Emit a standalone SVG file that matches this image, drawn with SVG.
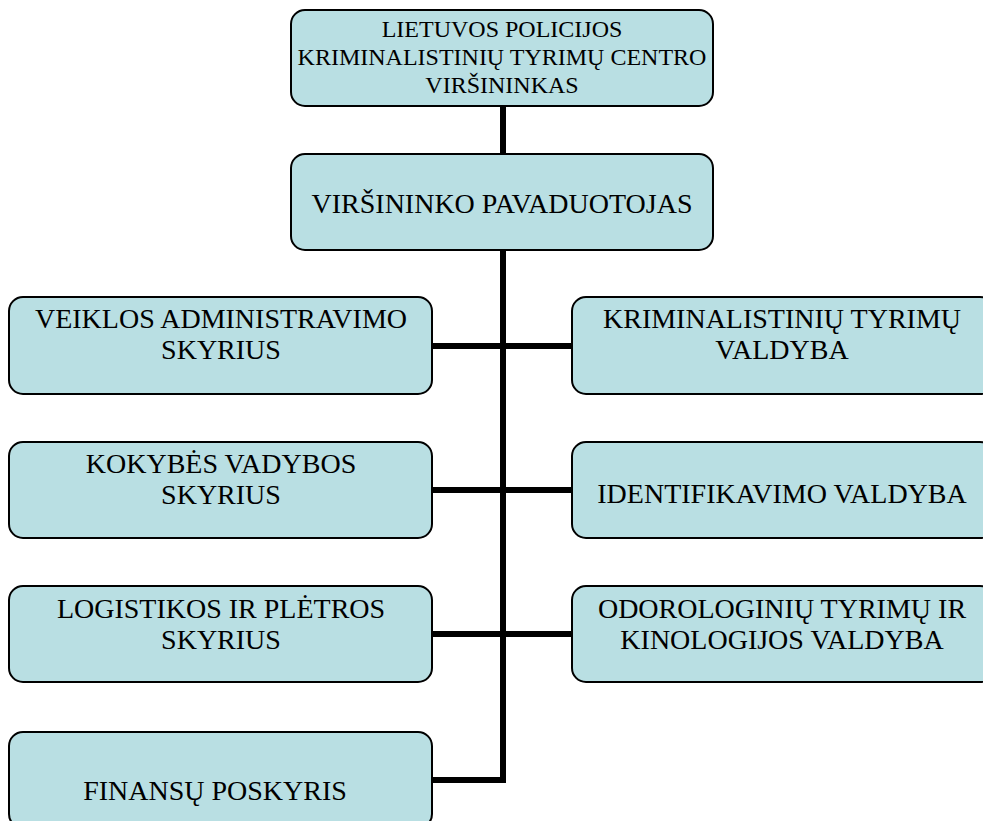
<svg xmlns="http://www.w3.org/2000/svg" width="983" height="821" viewBox="0 0 983 821">
<style>
.box{fill:#b9dfe3;stroke:#000;stroke-width:2}
text{font-family:'Liberation Serif','DejaVu Serif',serif;font-size:28px;fill:#000;text-anchor:middle}
.s{font-size:24px}
.c{stroke:#000;stroke-width:6;fill:none}
</style>
<rect width="983" height="821" fill="#fff"/>
<g id="connectors">
<path class="c" d="M503 106 V780 H432"/>
<path class="c" d="M432 346 H572 M432 490 H572 M432 634 H572"/>
</g>
<g id="n-top"><rect class="box" x="291" y="10" width="422" height="96" rx="14"/>
<text class="s" x="502" y="37" font-family="Liberation Serif, serif">LIETUVOS POLICIJOS</text>
<text class="s" x="502" y="65" font-family="Liberation Serif, serif">KRIMINALISTINIŲ TYRIMŲ CENTRO</text>
<text class="s" x="502" y="93" font-family="Liberation Serif, serif">VIRŠININKAS</text></g>
<g id="n-deputy"><rect class="box" x="291" y="154" width="422" height="96" rx="14"/>
<text x="502" y="213" font-family="Liberation Serif, serif" font-size="29">VIRŠININKO PAVADUOTOJAS</text></g>
<g id="n-veiklos"><rect class="box" x="9" y="297" width="423" height="97" rx="14"/>
<text x="221" y="328" font-family="Liberation Serif, serif">VEIKLOS ADMINISTRAVIMO</text>
<text x="221" y="359" font-family="Liberation Serif, serif">SKYRIUS</text></g>
<g id="n-kokybes"><rect class="box" x="9" y="442" width="423" height="96" rx="14"/>
<text x="221" y="473" font-family="Liberation Serif, serif">KOKYBĖS VADYBOS</text>
<text x="221" y="504" font-family="Liberation Serif, serif">SKYRIUS</text></g>
<g id="n-logistikos"><rect class="box" x="9" y="586" width="423" height="96" rx="14"/>
<text x="221" y="618" font-family="Liberation Serif, serif">LOGISTIKOS IR PLĖTROS</text>
<text x="221" y="649" font-family="Liberation Serif, serif">SKYRIUS</text></g>
<g id="n-finansu"><rect class="box" x="9" y="732" width="423" height="96" rx="14"/>
<text x="215" y="800" font-family="Liberation Serif, serif" font-size="29">FINANSŲ POSKYRIS</text></g>
<g id="n-krim"><rect class="box" x="572" y="297" width="422" height="97" rx="14"/>
<text x="782" y="328" font-family="Liberation Serif, serif">KRIMINALISTINIŲ TYRIMŲ</text>
<text x="782" y="359" font-family="Liberation Serif, serif">VALDYBA</text></g>
<g id="n-ident"><rect class="box" x="572" y="442" width="422" height="96" rx="14"/>
<text x="782" y="503" font-family="Liberation Serif, serif" font-size="29">IDENTIFIKAVIMO VALDYBA</text></g>
<g id="n-odor"><rect class="box" x="572" y="586" width="422" height="96" rx="14"/>
<text x="782" y="618" font-family="Liberation Serif, serif">ODOROLOGINIŲ TYRIMŲ IR</text>
<text x="782" y="649" font-family="Liberation Serif, serif">KINOLOGIJOS VALDYBA</text></g>
</svg>
